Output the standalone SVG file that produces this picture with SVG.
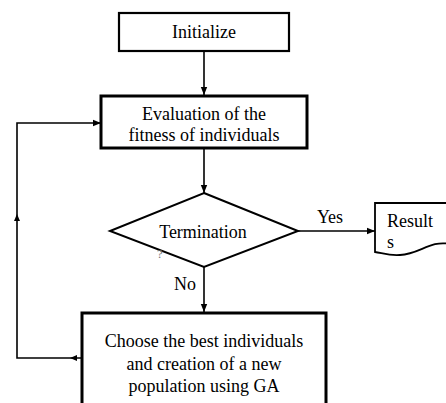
<svg xmlns="http://www.w3.org/2000/svg" width="446" height="403" viewBox="0 0 446 403">
<style>
text{font-size:18px;fill:#000}
.c{text-anchor:middle}
.box{fill:#fff;stroke:#000}
.ln{fill:none;stroke:#000;stroke-width:1.6}
</style>
<defs>
<marker id="ah" viewBox="0 0 10 10" refX="10" refY="5" markerWidth="8" markerHeight="8" markerUnits="userSpaceOnUse" orient="auto">
<path d="M0,1 L10,5 L0,9 Z" fill="#000"/>
</marker>
</defs>
<rect width="446" height="403" fill="#fff"/>
<g font-family="Liberation Serif, Times New Roman, DejaVu Serif, serif">
<g id="connectors">
<line class="ln" x1="204" y1="51" x2="204" y2="95" marker-end="url(#ah)"/>
<line class="ln" x1="204" y1="148" x2="204" y2="193" marker-end="url(#ah)"/>
<line class="ln" x1="298" y1="231" x2="375" y2="231" marker-end="url(#ah)"/>
<line class="ln" x1="204" y1="267" x2="204" y2="312" marker-end="url(#ah)"/>
<polyline class="ln" points="82,358 17,358 17,123 101,123" marker-end="url(#ah)"/>
<path d="M77,355 L70,358 L77,361 Z" fill="#000"/>
<path d="M14,221 L17,214 L20,221 Z" fill="#000"/>
<text class="c" x="330" y="223">Yes</text>
<text class="c" x="185" y="290">No</text>
</g>
<g id="initialize">
<rect class="box" x="119" y="13" width="170" height="38" stroke-width="2.2"/>
<text class="c" x="204" y="38">Initialize</text>
</g>
<g id="evaluation">
<rect class="box" x="101" y="96" width="206" height="52" stroke-width="3"/>
<text class="c" x="204" y="120">Evaluation of the</text>
<text class="c" x="204" y="141">fitness of individuals</text>
</g>
<g id="termination">
<polygon class="box" points="204,193 298,231 204,267 110,231" stroke-width="2"/>
<text class="c" x="203" y="238">Termination</text>
<text x="157" y="258" style="font-size:13px;fill:#777">?</text>
</g>
<g id="results">
<path class="box" d="M375,203 L450,203 L450,244 C430,240 420,254 400,255 C390,256 382,253 375,252 Z" stroke-width="1.8"/>
<text x="387" y="227">Result</text>
<text x="387" y="248">s</text>
</g>
<g id="choose">
<rect class="box" x="82" y="313" width="244" height="100" stroke-width="3"/>
<text class="c" x="204" y="347">Choose the best individuals</text>
<text class="c" x="204" y="370">and creation of a new</text>
<text class="c" x="204" y="392">population using GA</text>
</g>
</g>
</svg>
